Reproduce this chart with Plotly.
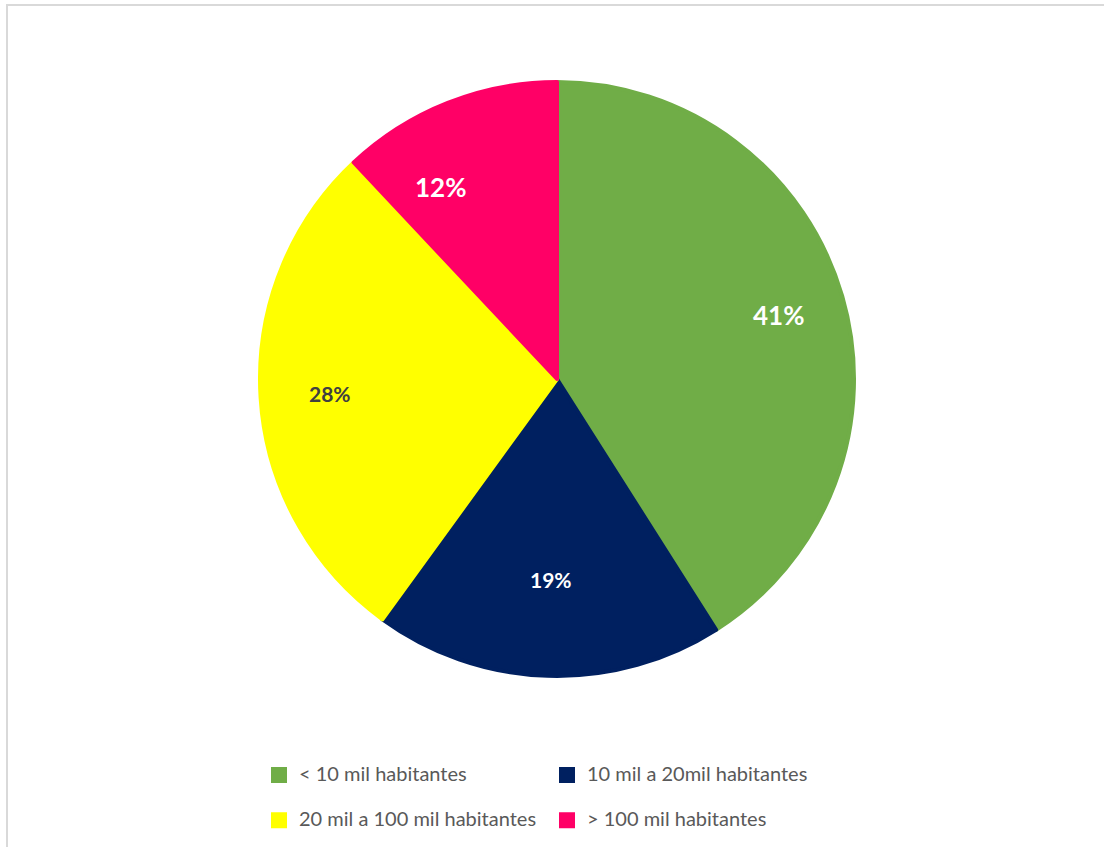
import math
import plotly.graph_objects as go

# ---- data ----
labels = ["< 10 mil habitantes", "10 mil a 20mil habitantes",
          "20 mil a 100 mil habitantes", "> 100 mil habitantes"]
values = [41, 19, 28, 12]
colors = ["#70AD47", "#002060", "#FFFF00", "#FF0066"]
text_colors = ["#FFFFFF", "#FFFFFF", "#404040", "#FFFFFF"]
text_sizes = [26, 21, 21, 26]
# label placement (fraction of radius, angular shift in degrees from the slice bisector)
label_radius = [0.77, 0.67, 0.76, 0.75]
label_shift = [0, 0, 0, -9.7]

# ---- layout geometry (pixels) ----
W, H = 1104, 847
L, R, T, B = 240, 240, 0, 0
gw, gh = W - L - R, H - T - B
CX, CY, RAD = 557, 379, 299
EDGE = 4  # slice outline (same colour as fill) -> also enlarges legend swatches

def px_x(px):
    return (px - L) / gw

def px_y(py):
    return 1 - (py - T) / gh

legend_text = ['<span style="font-size:20px">' + lab + "</span><br> " for lab in labels]

r_dom = RAD - EDGE / 2
fig = go.Figure(go.Pie(
    labels=legend_text,
    values=values,
    sort=False,
    direction="clockwise",
    rotation=0,
    marker=dict(colors=colors, line=dict(width=EDGE, color=colors)),
    textinfo="none",
    domain=dict(x=[px_x(CX - r_dom), px_x(CX + r_dom)],
                y=[px_y(CY + r_dom), px_y(CY - r_dom)]),
    hoverinfo="percent",
))

# percentage labels placed on each slice
total = sum(values)
cum = 0
for v, tc, ts, rf, sh in zip(values, text_colors, text_sizes, label_radius, label_shift):
    mid = (cum + v / 2) / total * 2 * math.pi + math.radians(sh)
    cum += v
    lx = CX + rf * RAD * math.sin(mid)
    ly = CY - rf * RAD * math.cos(mid)
    fig.add_annotation(
        x=px_x(lx), y=px_y(ly), xref="paper", yref="paper",
        text=f"{v / total * 100:.0f}%", showarrow=False,
        xanchor="center", yanchor="middle",
        font=dict(family="Lato", size=ts, color=tc, weight="bold"),
    )

fig.add_shape(type="rect", xref="paper", yref="paper",
              x0=px_x(7), x1=px_x(1120), y0=px_y(870), y1=px_y(5),
              line=dict(color="#D9D9D9", width=2), fillcolor="rgba(0,0,0,0)",
              layer="below")

fig.update_layout(
    width=W, height=H,
    margin=dict(l=L, r=R, t=T, b=B, autoexpand=False),
    paper_bgcolor="white", plot_bgcolor="white",
    showlegend=True,
    legend=dict(
        orientation="h",
        x=px_x(259), xanchor="left",
        y=px_y(758), yanchor="top",
        entrywidth=243, entrywidthmode="pixels",
        valign="top",
        bgcolor="rgba(0,0,0,0)",
        font=dict(family="Lato", size=16.2, color="#595959"),
        traceorder="normal",
    ),
)

fig.write_html("out.html")
